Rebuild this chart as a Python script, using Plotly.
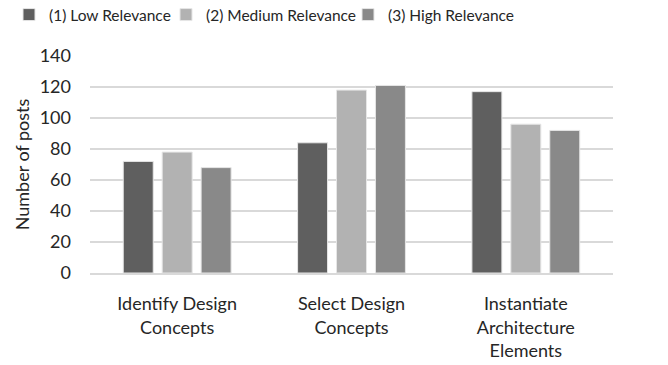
import plotly.graph_objects as go

categories = ["Identify Design<br>Concepts", "Select Design<br>Concepts", "Instantiate<br>Architecture<br>Elements"]
series_names = ["(1) Low Relevance", "(2) Medium Relevance", "(3) High Relevance"]
low_values = [72, 84, 117]
medium_values = [78, 118, 96]
high_values = [68, 121, 92]
y_ticks = [0, 20, 40, 60, 80, 100, 120, 140]

colors = ["#5f5f5f", "#b2b2b2", "#898989"]
FONT = "Lato"
TXT = "#262626"

legend_ids = ["legend", "legend2", "legend3"]
legend_x_px = [9, 166, 348]

fig = go.Figure()
for name, vals, col, lid in zip(series_names, [low_values, medium_values, high_values], colors, legend_ids):
    fig.add_trace(go.Bar(
        x=categories, y=vals, name=name, legend=lid,
        marker=dict(color=col, line=dict(color="#e6e6e6", width=1)),
    ))

legend_common = dict(orientation="h", xref="container", yref="container",
                     xanchor="left", yanchor="middle", y=1 - 15 / 365,
                     font=dict(size=15.5, color=TXT), itemwidth=30,
                     bgcolor="rgba(0,0,0,0)")

fig.update_layout(
    width=668, height=365,
    margin=dict(l=90, r=55, t=56, b=92, autoexpand=False),
    paper_bgcolor="white", plot_bgcolor="white",
    font=dict(family=FONT, size=18, color=TXT),
    barmode="group", bargap=0.33, bargroupgap=0.23,
    showlegend=True,
    legend=dict(x=legend_x_px[0] / 668, **legend_common),
    legend2=dict(x=legend_x_px[1] / 668, **legend_common),
    legend3=dict(x=legend_x_px[2] / 668, **legend_common),
    xaxis=dict(showline=True, linecolor="#d9d9d9", linewidth=1.5, ticks="",
               tickfont=dict(size=18, color=TXT), showgrid=False,
               ticklabelstandoff=14),
    yaxis=dict(range=[0, 140], tickvals=y_ticks, showgrid=True, gridcolor="#d9d9d9",
               gridwidth=1.5, zeroline=False, showline=False, ticks="",
               tickfont=dict(size=18, color=TXT), ticklabelstandoff=18,
               title=dict(text="Number of posts", font=dict(size=18, color=TXT), standoff=5)),
)

fig.write_html("out.html")
